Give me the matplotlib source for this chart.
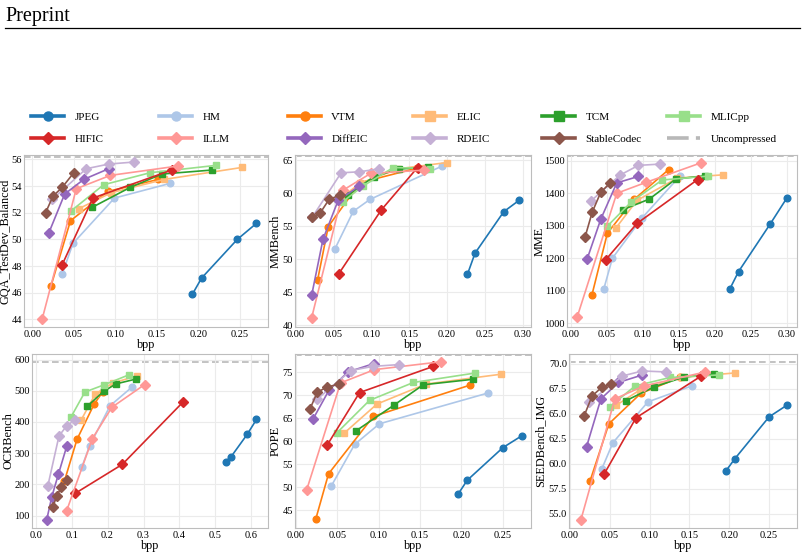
import numpy as np
import matplotlib
matplotlib.use("Agg")
import matplotlib.pyplot as plt
from matplotlib.lines import Line2D
from matplotlib.ticker import FormatStrFormatter

plt.rcParams.update({
    "font.family": ["Liberation Serif", "DejaVu Serif"],
    "font.size": 8, "axes.labelsize": 8.8,
    "xtick.labelsize": 7.5, "ytick.labelsize": 7.5,
})

METHODS = ["JPEG", "HM", "VTM", "ELIC", "TCM", "MLICpp",
           "HIFIC", "ILLM", "DiffEIC", "RDEIC", "StableCodec"]
COLORS = ["#1f77b4", "#aec7e8", "#ff7f0e", "#ffbb78", "#2ca02c", "#98df8a",
          "#d62728", "#ff9896", "#9467bd", "#c5b0d5", "#8c564b"]
MARKERS = ["o", "o", "o", "s", "s", "s", "D", "D", "D", "D", "D"]

# --- GQA_TestDev_Balanced -------------------------------------------------- #
GQA_BPP = {
    "JPEG": [0.193, 0.204, 0.247, 0.270], "HM": [0.036, 0.049, 0.099, 0.166],
    "VTM": [0.0225, 0.046, 0.091, 0.152], "ELIC": [0.056, 0.095, 0.159, 0.253],
    "TCM": [0.072, 0.118, 0.156, 0.216], "MLICpp": [0.047, 0.086, 0.142, 0.221],
    "HIFIC": [0.036, 0.073, 0.168], "ILLM": [0.012, 0.053, 0.094, 0.175],
    "DiffEIC": [0.020, 0.039, 0.062, 0.092], "RDEIC": [0.024, 0.065, 0.092, 0.122],
    "StableCodec": [0.016, 0.025, 0.036, 0.050]}
GQA_SCORE = {
    "JPEG": [45.9, 47.1, 50.0, 51.2], "HM": [47.4, 49.7, 53.1, 54.2],
    "VTM": [46.5, 51.4, 53.6, 54.5], "ELIC": [52.3, 53.5, 54.5, 55.4],
    "TCM": [52.4, 53.9, 54.9, 55.2], "MLICpp": [52.15, 54.1, 55.0, 55.55],
    "HIFIC": [48.1, 53.1, 55.2], "ILLM": [44.05, 53.8, 54.8, 55.5],
    "DiffEIC": [50.5, 53.4, 54.5, 55.3], "RDEIC": [53.0, 55.3, 55.65, 55.8],
    "StableCodec": [52.0, 53.25, 53.9, 55.0]}

# --- MMBench ---------------------------------------------------------------- #
MMB_BPP = {
    "JPEG": [0.227, 0.237, 0.275, 0.295], "HM": [0.052, 0.076, 0.098, 0.193],
    "VTM": [0.029, 0.043, 0.085, 0.160], "ELIC": [0.062, 0.085, 0.135, 0.1996],
    "TCM": [0.069, 0.103, 0.136, 0.175], "MLICpp": [0.062, 0.089, 0.129, 0.177],
    "HIFIC": [0.057, 0.113, 0.161], "ILLM": [0.021, 0.063, 0.099, 0.170],
    "DiffEIC": [0.021, 0.036, 0.056, 0.084], "RDEIC": [0.022, 0.060, 0.084, 0.110],
    "StableCodec": [0.022, 0.032, 0.044, 0.058]}
MMB_SCORE = {
    "JPEG": [47.7, 50.9, 57.2, 58.9], "HM": [51.6, 57.25, 59.05, 64.1],
    "VTM": [46.9, 54.95, 61.6, 63.8], "ELIC": [59.5, 61.5, 63.7, 64.65],
    "TCM": [59.7, 62.5, 63.65, 64.0], "MLICpp": [58.7, 61.1, 63.9, 63.75],
    "HIFIC": [47.8, 57.45, 63.9], "ILLM": [41.1, 60.5, 63.0, 63.5],
    "DiffEIC": [44.5, 53.0, 58.9, 61.1], "RDEIC": [56.4, 63.1, 63.25, 63.7],
    "StableCodec": [56.4, 56.95, 59.05, 59.7]}

# --- MME -------------------------------------------------------------------- #
MME_BPP = {
    "JPEG": [0.221, 0.233, 0.277, 0.2995], "HM": [0.046, 0.058, 0.0995, 0.152],
    "VTM": [0.0296, 0.051, 0.088, 0.136], "ELIC": [0.0625, 0.092, 0.148, 0.212],
    "TCM": [0.073, 0.109, 0.146, 0.187], "MLICpp": [0.051, 0.084, 0.127, 0.191],
    "HIFIC": [0.0486, 0.092, 0.176], "ILLM": [0.009, 0.064, 0.105, 0.181],
    "DiffEIC": [0.023, 0.042, 0.064, 0.094], "RDEIC": [0.028, 0.0685, 0.094, 0.124],
    "StableCodec": [0.020, 0.030, 0.042, 0.055]}
MME_SCORE = {
    "JPEG": [1106, 1159, 1306, 1384], "HM": [1105, 1200, 1325, 1454],
    "VTM": [1087, 1277, 1381, 1473], "ELIC": [1292, 1378, 1447, 1457],
    "TCM": [1350, 1382, 1444, 1454], "MLICpp": [1299, 1373, 1441, 1453],
    "HIFIC": [1195, 1307, 1442], "ILLM": [1018, 1400, 1434, 1494],
    "DiffEIC": [1198, 1321, 1432, 1452], "RDEIC": [1376, 1456, 1486, 1490],
    "StableCodec": [1265, 1342, 1404, 1432]}

# --- OCRBench --------------------------------------------------------------- #
OCR_BPP = {
    "JPEG": [0.528, 0.543, 0.588, 0.614], "HM": [0.129, 0.150, 0.207, 0.267],
    "VTM": [0.080, 0.115, 0.163, 0.187], "ELIC": [0.126, 0.166, 0.215, 0.282],
    "TCM": [0.143, 0.189, 0.223, 0.280], "MLICpp": [0.098, 0.137, 0.190, 0.259],
    "HIFIC": [0.110, 0.241, 0.409], "ILLM": [0.0865, 0.158, 0.212, 0.303],
    "DiffEIC": [0.031, 0.045, 0.0635, 0.0865], "RDEIC": [0.034, 0.065, 0.0865, 0.110],
    "StableCodec": [0.048, 0.059, 0.072, 0.0865]}
OCR_SCORE = {
    "JPEG": [273, 288, 360, 408], "HM": [257, 323, 452, 511],
    "VTM": [210, 344, 458, 497], "ELIC": [405, 490, 525, 548],
    "TCM": [450, 498, 522, 538], "MLICpp": [415, 496, 519, 551],
    "HIFIC": [171, 264, 463], "ILLM": [116, 347, 447, 520],
    "DiffEIC": [87, 160, 233, 322], "RDEIC": [195, 355, 388, 407],
    "StableCodec": [128, 163, 192, 214]}

# --- POPE ------------------------------------------------------------------- #
POPE_BPP = {
    "JPEG": [0.196, 0.207, 0.250, 0.273], "HM": [0.043, 0.071, 0.101, 0.232],
    "VTM": [0.024, 0.0395, 0.0935, 0.210], "ELIC": [0.058, 0.098, 0.157, 0.248],
    "TCM": [0.073, 0.118, 0.154, 0.2145], "MLICpp": [0.050, 0.089, 0.142, 0.2165],
    "HIFIC": [0.038, 0.077, 0.166], "ILLM": [0.013, 0.054, 0.095, 0.175],
    "DiffEIC": [0.021, 0.040, 0.063, 0.094], "RDEIC": [0.026, 0.0665, 0.093, 0.125],
    "StableCodec": [0.017, 0.026, 0.038, 0.052]}
POPE_SCORE = {
    "JPEG": [48.5, 51.5, 58.6, 61.2], "HM": [50.3, 59.3, 63.8, 70.5],
    "VTM": [43.0, 52.9, 65.4, 72.2], "ELIC": [61.7, 68.1, 72.45, 74.6],
    "TCM": [62.3, 67.8, 72.3, 73.5], "MLICpp": [61.9, 68.9, 72.8, 74.85],
    "HIFIC": [59.2, 70.6, 76.3], "ILLM": [49.35, 72.7, 75.6, 77.3],
    "DiffEIC": [64.9, 71.1, 75.1, 76.9], "RDEIC": [69.2, 75.4, 76.3, 76.7],
    "StableCodec": [67.0, 70.7, 71.8, 72.45]}

# --- SEEDBench_IMG ---------------------------------------------------------- #
SEED_BPP = {
    "JPEG": [0.196, 0.207, 0.250, 0.272], "HM": [0.040, 0.054, 0.098, 0.153],
    "VTM": [0.0255, 0.049, 0.089, 0.138], "ELIC": [0.058, 0.088, 0.140, 0.207],
    "TCM": [0.070, 0.1055, 0.1436, 0.181], "MLICpp": [0.050, 0.082, 0.126, 0.187],
    "HIFIC": [0.043, 0.083, 0.165], "ILLM": [0.014, 0.0565, 0.093, 0.170],
    "DiffEIC": [0.021, 0.039, 0.061, 0.091], "RDEIC": [0.024, 0.066, 0.091, 0.121],
    "StableCodec": [0.018, 0.028, 0.040, 0.052]}
SEED_SCORE = {
    "JPEG": [59.3, 60.5, 64.7, 65.85], "HM": [59.45, 62.1, 66.2, 67.8],
    "VTM": [58.3, 64.0, 67.05, 68.65], "ELIC": [65.85, 67.4, 68.65, 69.1],
    "TCM": [66.3, 67.7, 68.7, 69.0], "MLICpp": [65.7, 67.8, 68.65, 68.9],
    "HIFIC": [58.95, 64.6, 68.8], "ILLM": [54.4, 66.5, 67.8, 69.2],
    "DiffEIC": [61.7, 66.5, 68.15, 68.9], "RDEIC": [66.15, 68.8, 69.3, 69.2],
    "StableCodec": [64.8, 66.8, 67.65, 67.95]}

BENCHES = ["GQA_TestDev_Balanced", "MMBench", "MME",
           "OCRBench", "POPE", "SEEDBench_IMG"]
UNCOMPRESSED = [56.15, 65.65, 1515, 592, 78.86, 70.2]

# layout in pixels of the 804x558 page: left, right, top, bottom of each axes
W, H = 804, 558
BOXES = [(24, 268, 155, 327), (295, 531, 155, 327), (567, 797, 155, 327),
         (32, 268, 354, 528), (295, 531, 354, 528), (569, 797, 354, 528)]
YLABEL_X = [12, 282, 546, 15, 282, 546]        # right edge of the y label
XLIMS = [(-0.010, 0.284), (-0.001, 0.311), (-0.005, 0.314),
         (-0.010, 0.646), (-0.001, 0.284), (-0.001, 0.285)]
YLIMS = [(43.43, 56.33), (39.7, 65.8), (988, 1518),
         (60, 618), (41.1, 79.0), (53.56, 71.0)]
YTICKS = [np.arange(44, 57, 2), np.arange(40, 66, 5), np.arange(1000, 1501, 100),
          np.arange(100, 601, 100), np.arange(45, 76, 5), np.arange(55, 70.1, 2.5)]


def _panel(ax, bpp, score, ref):
    for m, c, mk in zip(METHODS, COLORS, MARKERS):
        ax.plot(bpp[m], score[m], color=c, marker=mk, ms=4.8, lw=1.2,
                mec=c, mfc=c)
    ax.axhline(ref, color="#b8b8b8", ls=(0, (4, 2)), lw=1.2, zorder=0)
    ax.grid(True, color="#ebebeb", lw=0.8)
    ax.set_axisbelow(True)
    for s in ax.spines.values():
        s.set_color("#bdbdbd")
    ax.tick_params(axis="y", length=0, pad=1.5)
    ax.tick_params(axis="x", length=0, pad=2.2)


fig = plt.figure(figsize=(W / 100, H / 100), dpi=100)
fig.text(5 / W, 1 - 21 / H, "Preprint", fontsize=14.5, va="baseline")
fig.add_artist(Line2D([5 / W, 800 / W], [1 - 27.5 / H, 1 - 27.5 / H],
                      color="k", lw=0.9))

data = [(GQA_BPP, GQA_SCORE), (MMB_BPP, MMB_SCORE), (MME_BPP, MME_SCORE),
        (OCR_BPP, OCR_SCORE), (POPE_BPP, POPE_SCORE), (SEED_BPP, SEED_SCORE)]
for i, ((bpp, score), box) in enumerate(zip(data, BOXES)):
    l, r, t, b = box
    ax = fig.add_axes([l / W, 1 - b / H, (r - l) / W, (b - t) / H])
    _panel(ax, bpp, score, UNCOMPRESSED[i])
    ax.set_xlim(*XLIMS[i])
    ax.set_ylim(*YLIMS[i])
    ax.set_yticks(YTICKS[i])
    ax.set_xlabel("bpp", labelpad=0)
    ax.set_ylabel(BENCHES[i])
    ax.yaxis.set_label_coords((YLABEL_X[i] - l) / (r - l), 0.5)
    if i == 5:
        ax.yaxis.set_major_formatter(FormatStrFormatter("%.1f"))
    ax.xaxis.set_major_formatter(FormatStrFormatter("%.1f" if i == 3 else "%.2f"))

# legend: six two-row blocks placed at the reference column positions
handles = [Line2D([], [], color=c, marker=mk, ms=6.5, lw=2.6, label=m)
           for m, c, mk in zip(METHODS, COLORS, MARKERS)]
handles.append(Line2D([], [], color="#b8b8b8", ls=(0, (6, 2)), lw=2.6,
                      label="Uncompressed"))
COL_X = [31, 159, 288, 413, 542, 667]
for col, x0 in enumerate(COL_X):
    fig.legend(handles=[handles[col], handles[col + 6]], loc="upper left",
               bbox_to_anchor=(x0 / W, 1 - 112 / H), frameon=False,
               borderpad=0, borderaxespad=0, fontsize=8,
               handlelength=3.0, handletextpad=0.9, labelspacing=1.15)

fig.savefig("out.png", dpi=100)
